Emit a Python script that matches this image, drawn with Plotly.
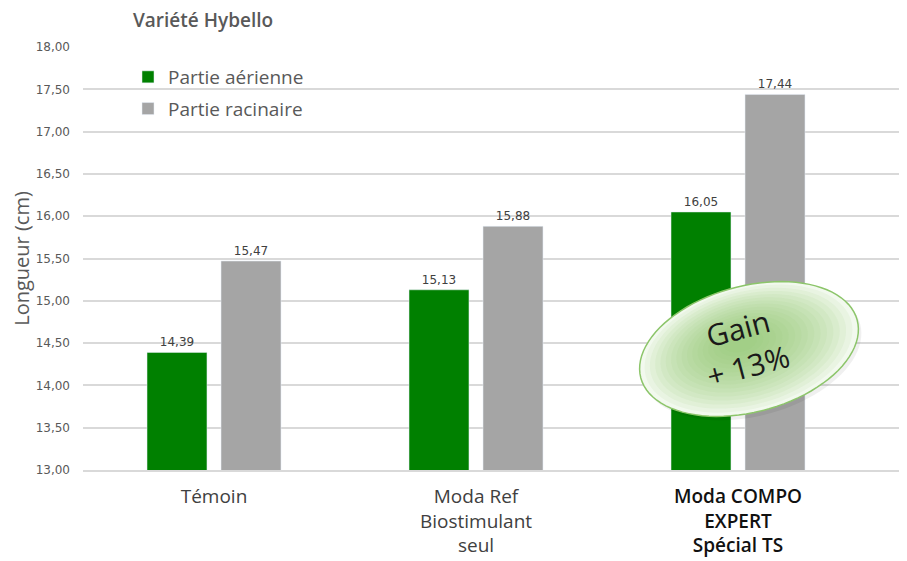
import numpy as np
import plotly.graph_objects as go

categories = ["Témoin", "Moda Ref<br>Biostimulant<br>seul", "Moda COMPO<br>EXPERT<br>Spécial TS"]
tick_labels = [
    "Témoin",
    "Moda Ref<br>Biostimulant<br>seul",
    "<span style='color:#111111;font-weight:600'>Moda COMPO<br>EXPERT<br>Spécial TS</span>",
]
aerienne = [14.39, 15.13, 16.05]
racinaire = [15.47, 15.88, 17.44]
y_ticks = [13.0, 13.5, 14.0, 14.5, 15.0, 15.5, 16.0, 16.5, 17.0, 17.5, 18.0]

GREEN = "#008000"
GREY = "#A5A5A5"
TXT = "#595959"
FONT = "'Open Sans', sans-serif"
SMALL = "'DejaVu Sans', sans-serif"

# page body has an 8px default margin
OFF = 8
W, H = 907 - OFF, 561 - OFF
PL, PR, PT, PB = 83, 907, 47, 470        # plot area in screen pixels
L, R, T, B = PL - OFF, 0, PT - OFF, H - (PB - OFF)
pw, ph = PR - PL, PB - PT

x_idx = list(range(len(categories)))

fig = go.Figure()
fig.add_trace(go.Bar(
    x=x_idx, y=aerienne, name="Partie aérienne", marker_color=GREEN,
    legendgroup="a",
    text=aerienne, texttemplate="%{y:.2f}", textposition="outside",
    textfont=dict(size=12, color="#404040", family=SMALL), cliponaxis=False,
))
fig.add_trace(go.Bar(
    x=x_idx, y=racinaire, name="Partie racinaire", marker_color=GREY,
    legendgroup="b",
    text=racinaire, texttemplate="%{y:.2f}", textposition="outside",
    textfont=dict(size=12, color="#404040", family=SMALL), cliponaxis=False,
))

# Callout ellipse (decoration) in paper coordinates, built from screen-pixel geometry
def ellipse_path(cx, cy, a, b, ang_deg, n=90):
    t = np.linspace(0, 2 * np.pi, n, endpoint=False)
    ang = np.deg2rad(ang_deg)
    xs = cx + a * np.cos(t) * np.cos(ang) - b * np.sin(t) * np.sin(ang)
    ys = cy + a * np.cos(t) * np.sin(ang) + b * np.sin(t) * np.cos(ang)
    px = (xs - PL) / pw
    py = (PB - ys) / ph
    pts = [f"{x:.5f},{y:.5f}" for x, y in zip(px, py)]
    return "M" + " L".join(pts) + " Z"

cx, cy, ea, eb, rot = 749, 349, 112, 63, -15
shapes = []
shapes.append(dict(type="path", xref="paper", yref="paper",
                   path=ellipse_path(cx + 3, cy + 4, ea, eb, rot),
                   fillcolor="rgba(0,0,0,0.06)", line=dict(width=0), layer="above"))
shapes.append(dict(type="path", xref="paper", yref="paper",
                   path=ellipse_path(cx, cy, ea, eb, rot),
                   fillcolor="#F2F9EE", line=dict(color="#8CC56A", width=1.5), layer="above"))
for s in np.linspace(0.95, 0.15, 16):
    shapes.append(dict(type="path", xref="paper", yref="paper",
                       path=ellipse_path(cx - 10 * (1 - s), cy - 8 * (1 - s), ea * s, eb * s, rot),
                       fillcolor="rgba(140,205,110,0.09)", line=dict(width=0), layer="above"))

annotations = [dict(
    text="Gain<br>+ 13%", x=(cx - 6 - PL) / pw, y=(PB - (cy - 2)) / ph,
    xref="paper", yref="paper", showarrow=False, textangle=-15,
    xanchor="center", yanchor="middle",
    font=dict(size=30, color="#1a1a1a", family=FONT),
)]

fig.update_layout(
    width=W, height=H,
    margin=dict(l=L, r=R, t=T, b=B, autoexpand=False),
    plot_bgcolor="white", paper_bgcolor="white",
    separators=", ",
    barmode="group", bargap=0.435, bargroupgap=0.19,
    font=dict(family=FONT, color=TXT),
    title=dict(text="Variété Hybello", x=(133 - OFF) / W, y=1 - (20 - OFF) / H,
               xref="container", yref="container", xanchor="left", yanchor="middle",
               font=dict(size=19, color=TXT, family=FONT, weight=600)),
    legend=dict(x=(128 - PL) / pw, y=(PB - 58) / ph, xanchor="left", yanchor="top",
                font=dict(size=19, color=TXT, family=FONT), bgcolor="rgba(0,0,0,0)",
                itemwidth=30, traceorder="grouped", tracegroupgap=4),
    shapes=shapes, annotations=annotations,
    showlegend=True,
)
fig.update_xaxes(
    tickvals=x_idx, ticktext=tick_labels, range=[-0.5, -0.5 + pw / 262],
    showgrid=False, showline=True, linecolor="#D9D9D9", linewidth=2,
    tickfont=dict(size=19, color="#404040", family=FONT), ticks="", ticklabelstandoff=8,
    automargin=False,
)
fig.update_yaxes(
    range=[13, 18], tickvals=y_ticks, tickformat=".2f",
    showgrid=True, gridcolor="#D9D9D9", gridwidth=2, zeroline=False,
    tickfont=dict(size=12, color=TXT, family=SMALL), ticklabelstandoff=12,
    title=dict(text="Longueur (cm)", font=dict(size=20, color=TXT, family=FONT), standoff=4),
    automargin=False,
)

fig.write_html("out.html")
